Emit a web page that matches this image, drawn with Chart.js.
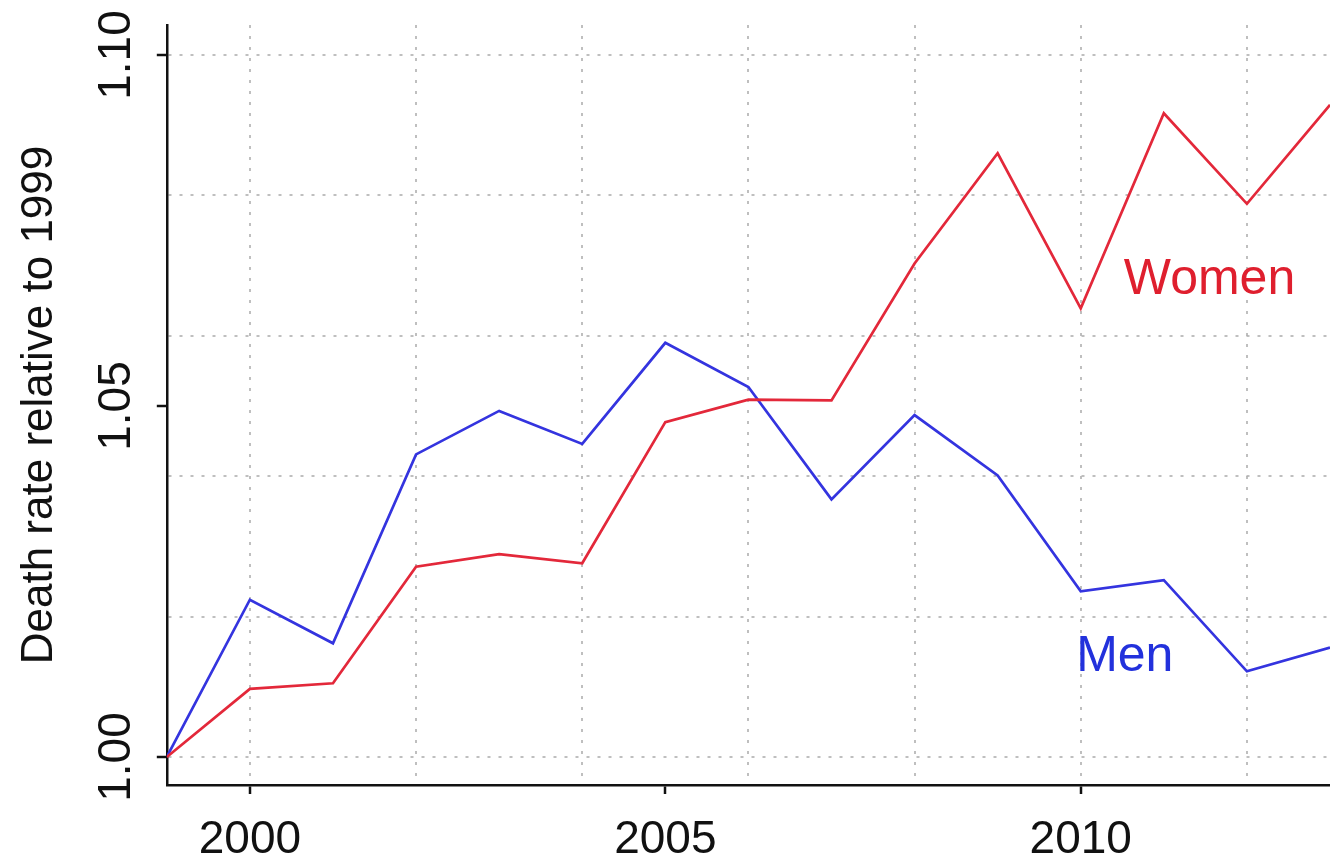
<!DOCTYPE html>
<html>
<head>
<meta charset="utf-8">
<script src="https://cdn.jsdelivr.net/npm/chart.js@4/dist/chart.umd.min.js"></script>
<style>
  html, body { margin: 0; padding: 0; background: #ffffff; }
  #wrap { width: 1330px; height: 857px; position: relative; }
</style>
</head>
<body>
<div id="wrap"><canvas id="c"></canvas></div>
<script>
// ---- data ----
const years = [1999, 2000, 2001, 2002, 2003, 2004, 2005, 2006, 2007, 2008, 2009, 2010, 2011, 2012, 2013];
const women = [1.000, 1.0097, 1.0105, 1.0271, 1.0289, 1.0276, 1.0477, 1.0509, 1.0508, 1.0703, 1.0860, 1.0639, 1.0917, 1.0788, 1.0929];
const men   = [1.000, 1.0224, 1.0162, 1.0431, 1.0493, 1.0446, 1.0590, 1.0527, 1.0367, 1.0487, 1.0401, 1.0236, 1.0252, 1.0122, 1.0156];

const xTickLabels = [2000, 2005, 2010];
const xGridYears  = [2000, 2002, 2004, 2006, 2008, 2010, 2012];
const yTickLabels = [1.00, 1.05, 1.10];
const yGridValues = [1.00, 1.02, 1.04, 1.06, 1.08, 1.10];

const seriesLabels = [
  { text: 'Women', x: 2011.55, y: 1.0679, color: '#df1f2e' },
  { text: 'Men',   x: 2010.53, y: 1.01425, color: '#2231dc' }
];

const yAxisTitle = 'Death rate relative to 1999';

// ---- helpers ----
const FONT = "'Liberation Sans', Arial, Helvetica, sans-serif";
const near = (a, b) => Math.abs(a - b) < 1e-6;
const inList = (v, list) => list.some(t => near(t, v));
const unionSorted = (a, b) => {
  const out = [...a];
  b.forEach(v => { if (!inList(v, out)) out.push(v); });
  return out.sort((p, q) => p - q);
};

const GRID_COLOR = 'rgba(175,175,175,0.8)';

const labelPlugin = {
  id: 'customLabels',
  afterDraw(chart) {
    const ctx = chart.ctx;
    const xs = chart.scales.x, ys = chart.scales.y;
    ctx.save();
    // rotated y tick labels
    ctx.font = '46px ' + FONT;
    ctx.fillStyle = '#111111';
    ctx.textAlign = 'center';
    ctx.textBaseline = 'alphabetic';
    yTickLabels.forEach(v => {
      const py = ys.getPixelForValue(v);
      ctx.save();
      ctx.translate(130, py);
      ctx.rotate(-Math.PI / 2);
      ctx.fillText(v.toFixed(2), 0, 0);
      ctx.restore();
    });
    // series labels
    ctx.font = '50px ' + FONT;
    ctx.textBaseline = 'middle';
    seriesLabels.forEach(l => {
      ctx.fillStyle = l.color;
      ctx.fillText(l.text, xs.getPixelForValue(l.x), ys.getPixelForValue(l.y));
    });
    ctx.restore();
  }
};

const ctx = document.getElementById('c').getContext('2d');
new Chart(ctx, {
  type: 'line',
  data: {
    datasets: [
      {
        label: 'Women',
        data: years.map((y, i) => ({ x: y, y: women[i] })),
        borderColor: '#e3283a',
        borderWidth: 2.7,
        pointRadius: 0,
        tension: 0,
        fill: false
      },
      {
        label: 'Men',
        data: years.map((y, i) => ({ x: y, y: men[i] })),
        borderColor: '#3434df',
        borderWidth: 2.7,
        pointRadius: 0,
        tension: 0,
        fill: false
      }
    ]
  },
  options: {
    responsive: true,
    maintainAspectRatio: false,
    animation: false,
    layout: { padding: { top: 25, right: 0, bottom: 0, left: 0 } },
    plugins: {
      legend: { display: false },
      tooltip: { enabled: false },
      title: { display: false }
    },
    scales: {
      x: {
        type: 'linear',
        min: 1999,
        max: 2013,
        afterFit(scale) { scale.height = 72; },
        afterBuildTicks(scale) {
          scale.ticks = unionSorted(xGridYears, xTickLabels).map(v => ({ value: v }));
        },
        ticks: {
          autoSkip: false,
          maxRotation: 0,
          minRotation: 0,
          padding: 19,
          color: '#111111',
          font: { family: FONT, size: 46 },
          callback: (v) => inList(v, xTickLabels) ? String(v) : ''
        },
        grid: {
          color: (c) => (c.tick && inList(c.tick.value, xGridYears)) ? GRID_COLOR : 'rgba(0,0,0,0)',
          lineWidth: 2,
          drawTicks: true,
          tickLength: 9,
          tickWidth: 2.5,
          tickColor: (c) => (c.tick && inList(c.tick.value, xTickLabels)) ? '#111111' : 'rgba(0,0,0,0)'
        },
        border: { display: true, color: '#111111', width: 2.5, dash: [3, 8] }
      },
      y: {
        type: 'linear',
        min: 0.99601,
        max: 1.10427,
        afterFit(scale) { scale.width = 166.8; },
        afterBuildTicks(scale) {
          scale.ticks = unionSorted(yGridValues, yTickLabels).map(v => ({ value: v }));
        },
        ticks: { display: false },
        grid: {
          color: (c) => (c.tick && inList(c.tick.value, yGridValues)) ? GRID_COLOR : 'rgba(0,0,0,0)',
          lineWidth: 2,
          drawTicks: true,
          tickLength: 10,
          tickWidth: 2.5,
          tickColor: (c) => (c.tick && inList(c.tick.value, yTickLabels)) ? '#111111' : 'rgba(0,0,0,0)'
        },
        border: { display: true, color: '#111111', width: 2.5, dash: [3, 8] },
        title: {
          display: true,
          text: yAxisTitle,
          color: '#111111',
          font: { family: FONT, size: 44 },
          padding: { top: 13, bottom: 0 }
        }
      }
    }
  },
  plugins: [labelPlugin]
});
</script>
</body>
</html>
